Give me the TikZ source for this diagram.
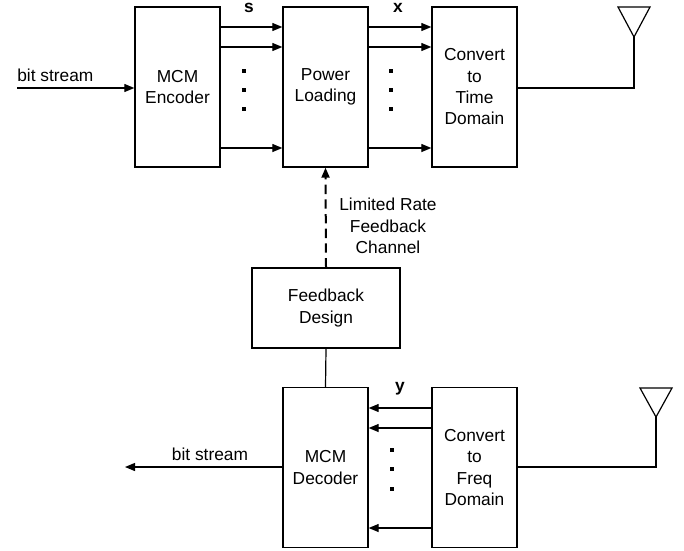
\documentclass[tikz,border=0pt]{standalone}
\usepackage{fontspec}
\setmainfont{Liberation Sans}
\usetikzlibrary{arrows.meta}
\begin{document}
\begin{tikzpicture}[x=0.75pt,y=-0.75pt,
  blk/.style={draw,line width=1pt,minimum width=63.75pt,minimum height=120pt,
    align=center,inner sep=0pt,font=\fontsize{13}{16}\selectfont},
  fbblk/.style={blk,minimum width=111pt,minimum height=60pt},
  wire/.style={line width=0.9pt},
  arr/.style={wire,-{Triangle[length=7.5pt,width=6pt]}},
  fbarr/.style={line width=1.5pt,dash pattern=on 7pt off 4pt,
    -{Triangle[length=7.5pt,width=6pt]}},
  lbl/.style={inner sep=0pt,font=\fontsize{13}{16}\selectfont},
  vec/.style={inner sep=0pt,font=\bfseries\fontsize{13}{16}\selectfont},
  dot/.style={fill=black}]
\useasboundingbox (0,0) rectangle (684,550);

% transmitter chain
\node[blk] (enc) at (177.5,87) {MCM\\Encoder};
\node[blk] (pow) at (325.5,87) {Power\\Loading};
\node[blk] (tim) at (474.5,87) {Convert\\to\\Time\\Domain};

% feedback
\node[fbblk] (fb) at (326,308) {Feedback\\Design};

% receiver chain
\node[blk] (dec) at (325.5,467.5) {MCM\\Decoder};
\node[blk] (frq) at (474.5,467.5) {Convert\\to\\Freq\\Domain};

% input bit stream
\coordinate (in) at (17,88);
\draw[arr] (in) -- (enc.west |- in);
\node[lbl,anchor=base west] (inl) at (17,81) {bit stream};

% subcarrier streams s
\foreach \yy in {27,47,148}
  \draw[arr] (enc.east |- 0,\yy) -- (pow.west |- 0,\yy);
\foreach \yy in {71,90,109}
  \fill[dot] (244-2,\yy-2) rectangle (244+2,\yy+2);
\node[vec,anchor=base] (sl) at (249,12) {s};

% subcarrier streams x
\foreach \yy in {27,47,148}
  \draw[arr] (pow.east |- 0,\yy) -- (tim.west |- 0,\yy);
\foreach \yy in {71,90,109}
  \fill[dot] (391-2,\yy-2) rectangle (391+2,\yy+2);
\node[vec,anchor=base] (xl) at (398,12) {x};

% transmit antenna
\coordinate (txa) at (634,37);
\draw[wire] (tim.east |- 0,88) -- (txa |- 0,88) -- (txa);
\draw[wire] (txa) -- (618,7) -- (650,7) -- cycle;

% limited rate feedback channel
\draw[fbarr] (fb.north) -- (pow.south);
\node[lbl,align=center,anchor=north] (fbl) at (388,198)
  {Limited Rate\\Feedback\\Channel};

% decoder to feedback design
\draw[wire] (dec.north) -- (fb.south);

% subcarrier streams y
\foreach \yy in {408,428,528}
  \draw[arr] (frq.west |- 0,\yy) -- (dec.east |- 0,\yy);
\foreach \yy in {450,469,489}
  \fill[dot] (392-2,\yy-2) rectangle (392+2,\yy+2);
\node[vec,anchor=base] (yl) at (400,391) {y};

% output bit stream
\coordinate (out) at (125,467);
\draw[arr] (dec.west |- out) -- (out);
\node[lbl,anchor=base] (outl) at (210,460) {bit stream};

% receive antenna
\coordinate (rxa) at (656,417);
\draw[wire] (frq.east |- 0,467) -- (rxa |- 0,467) -- (rxa);
\draw[wire] (rxa) -- (640,388) -- (672,388) -- cycle;
\end{tikzpicture}
\end{document}
